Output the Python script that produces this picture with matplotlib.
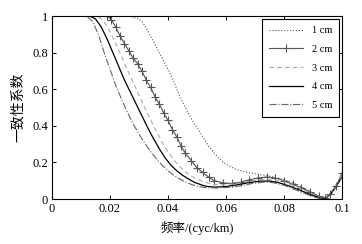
import numpy as np
import matplotlib
matplotlib.use("Agg")
import matplotlib.pyplot as plt

plt.rcParams['font.family'] = ['Liberation Serif', 'Noto Sans CJK SC']

# 数据
f1 = [0, 0.027, 0.030, 0.032, 0.034, 0.036, 0.038, 0.040, 0.042, 0.044,
      0.046, 0.048, 0.050, 0.052, 0.054, 0.056, 0.058, 0.060, 0.063, 0.066,
      0.070, 0.074, 0.078, 0.082, 0.085, 0.088, 0.091, 0.093, 0.095, 0.097,
      0.099, 0.1]
v1 = [1, 1, 0.985, 0.95, 0.89, 0.83, 0.77, 0.71, 0.64, 0.565,
      0.50, 0.44, 0.39, 0.34, 0.29, 0.25, 0.215, 0.19, 0.165, 0.15,
      0.138, 0.128, 0.115, 0.095, 0.075, 0.05, 0.02, 0.005, 0.01, 0.05,
      0.10, 0.14]

f2 = [0, 0.019, 0.0205, 0.022, 0.0235, 0.025, 0.0265, 0.028, 0.0295, 0.031,
      0.0325, 0.034, 0.0355, 0.037, 0.0385, 0.040, 0.0415, 0.043, 0.0445, 0.046,
      0.048, 0.050, 0.052, 0.054, 0.056, 0.059, 0.062, 0.065, 0.068, 0.071,
      0.074, 0.077, 0.080, 0.083, 0.086, 0.089, 0.092, 0.094, 0.096, 0.098, 0.100]
v2 = [1, 1, 0.98, 0.94, 0.89, 0.85, 0.81, 0.77, 0.74, 0.70,
      0.65, 0.61, 0.56, 0.52, 0.47, 0.43, 0.38, 0.34, 0.29, 0.25,
      0.21, 0.17, 0.145, 0.12, 0.10, 0.088, 0.085, 0.092, 0.105, 0.115,
      0.12, 0.115, 0.10, 0.08, 0.06, 0.04, 0.015, 0.005, 0.03, 0.07, 0.14]

f3 = [0, 0.0155, 0.0175, 0.0195, 0.0215, 0.0235, 0.0255, 0.0275, 0.0295, 0.0315,
      0.0335, 0.0355, 0.0375, 0.0395, 0.0415, 0.0435, 0.0455, 0.0475, 0.050, 0.053,
      0.056, 0.060, 0.064, 0.068, 0.072, 0.076, 0.080, 0.084, 0.088, 0.091,
      0.094, 0.096, 0.098, 0.1]
v3 = [1, 1, 0.98, 0.93, 0.865, 0.795, 0.725, 0.655, 0.585, 0.515,
      0.45, 0.385, 0.325, 0.27, 0.225, 0.185, 0.155, 0.13, 0.108, 0.09,
      0.08, 0.078, 0.085, 0.097, 0.107, 0.105, 0.092, 0.07, 0.04, 0.015,
      0.003, 0.03, 0.075, 0.13]

f4 = [0, 0.013, 0.015, 0.017, 0.019, 0.021, 0.023, 0.025, 0.027, 0.029,
      0.031, 0.033, 0.035, 0.037, 0.039, 0.041, 0.043, 0.045, 0.047, 0.049,
      0.051, 0.053, 0.056, 0.060, 0.064, 0.068, 0.072, 0.075, 0.078, 0.082,
      0.086, 0.089, 0.092, 0.094, 0.096, 0.098, 0.1]
v4 = [1, 1, 0.985, 0.94, 0.875, 0.80, 0.725, 0.65, 0.585, 0.52,
      0.455, 0.39, 0.33, 0.275, 0.225, 0.185, 0.155, 0.13, 0.11, 0.092,
      0.08, 0.07, 0.065, 0.068, 0.078, 0.09, 0.098, 0.098, 0.09, 0.07,
      0.045, 0.025, 0.007, 0.0, 0.025, 0.07, 0.12]

f5 = [0, 0.012, 0.014, 0.016, 0.018, 0.020, 0.022, 0.024, 0.026, 0.028,
      0.030, 0.032, 0.034, 0.036, 0.038, 0.040, 0.042, 0.044, 0.046, 0.048,
      0.050, 0.053, 0.057, 0.061, 0.065, 0.069, 0.073, 0.076, 0.080, 0.084,
      0.088, 0.091, 0.094, 0.096, 0.098, 0.1]
v5 = [1, 1, 0.97, 0.90, 0.80, 0.71, 0.62, 0.545, 0.475, 0.41,
      0.355, 0.305, 0.26, 0.22, 0.185, 0.155, 0.13, 0.11, 0.093, 0.08,
      0.07, 0.062, 0.06, 0.064, 0.072, 0.085, 0.092, 0.09, 0.075, 0.05,
      0.025, 0.008, 0.0, 0.025, 0.07, 0.12]

labels = ['1 cm', '2 cm', '3 cm', '4 cm', '5 cm']
xticks = [0, 0.02, 0.04, 0.06, 0.08, 0.1]
xticklabels = ['0', '0.02', '0.04', '0.06', '0.08', '0.1']
yticks = [0, 0.2, 0.4, 0.6, 0.8, 1]
yticklabels = ['0', '0.2', '0.4', '0.6', '0.8', '1']

fig = plt.figure(figsize=(3.62, 2.44), dpi=100)
ax = fig.add_axes([0.1436, 0.1844, 0.8012, 0.7496])

ax.plot(f1, v1, ':', color='#555555', lw=0.8, label=labels[0])
ax.plot(f2, v2, '-', color='#555555', lw=0.8, marker='+', ms=6, mew=0.8,
        markevery=list(range(1, len(f2))), label=labels[1])
ax.plot(f3, v3, '--', color='#aaaaaa', lw=0.8, dashes=(4, 3), label=labels[2])
ax.plot(f4, v4, '-', color='black', lw=0.9, label=labels[3])
ax.plot(f5, v5, '-.', color='#666666', lw=0.8, label=labels[4])

ax.set_xlim(0, 0.1)
ax.set_ylim(0, 1)
ax.set_xticks(xticks)
ax.set_xticklabels(xticklabels)
ax.set_yticks(yticks)
ax.set_yticklabels(yticklabels)
ax.tick_params(direction='in', top=True, right=True, length=3, width=0.7,
               labelsize=9, pad=3)
for s in ax.spines.values():
    s.set_linewidth(0.8)

ax.set_xlabel('频率/(cyc/km)', fontsize=9, labelpad=4)
ax.set_ylabel('一致性系数', fontsize=10, labelpad=5)

leg = ax.legend(loc='upper right', fontsize=7.5, handlelength=3.3,
                labelspacing=0.9, fancybox=False, framealpha=1,
                edgecolor='black', borderpad=0.7, handletextpad=0.8,
                numpoints=1, borderaxespad=0.25)
leg.get_frame().set_linewidth(0.8)

plt.savefig('out.png', dpi=100)
